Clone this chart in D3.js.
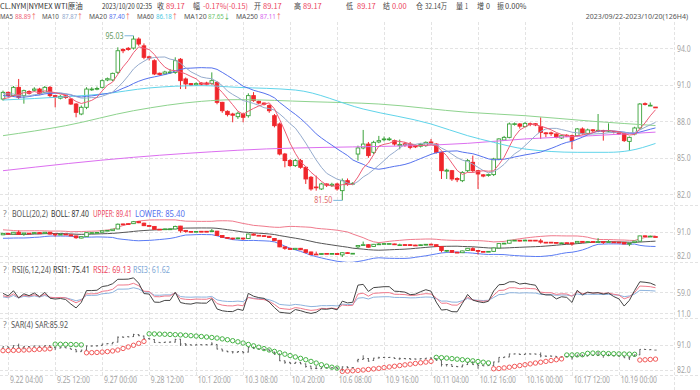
<!DOCTYPE html>
<html lang="zh-CN">
<head>
<meta charset="UTF-8">
<title>CL.NYM 4H</title>
<style>
  body { margin: 0; background: #fff; }
  svg { display: block; font-family: "Noto Sans CJK SC", "Noto Sans", sans-serif; }
  .grid line { stroke: #e3e3e3; stroke-dasharray: 3,2; shape-rendering: crispEdges; }
  .lat { font-family: "Noto Sans", "Noto Sans CJK SC", sans-serif; }
</style>
</head>
<body>
<script src="https://cdn.jsdelivr.net/npm/d3@7/dist/d3.min.js"></script>
<script>
// 4小时K线, 126根
var opens  = [89.83,90.38,90.11,90.79,90.11,90.45,90.55,90.65,90.38,90.79,90.11,89.90,90.10,89.83,89.42,88.60,89.15,90.60,90.65,90.79,
              91.40,91.40,92.03,93.90,94.00,94.02,94.76,94.20,93.30,92.98,91.95,91.90,92.00,92.02,93.10,91.48,91.10,91.00,91.15,91.15,
              91.12,91.20,89.56,88.82,88.60,88.38,88.60,88.46,90.11,89.65,89.50,89.29,88.46,87.78,85.31,84.77,84.36,84.77,84.22,83.40,
              82.60,82.44,82.85,82.72,82.85,82.30,83.12,82.85,85.31,85.81,86.13,85.45,86.30,86.50,86.50,86.41,86.00,86.15,86.13,85.98,
              85.95,86.00,86.30,86.13,85.45,83.90,83.94,83.30,83.12,83.94,84.63,83.94,83.60,83.55,83.62,84.90,86.46,86.68,87.75,87.78,
              87.56,87.80,87.80,87.56,87.05,87.05,86.96,86.63,86.85,86.82,86.82,87.37,87.01,87.30,87.20,87.25,87.20,87.15,87.09,87.01,
              86.35,86.96,87.45,89.45,89.28,89.17];
var highs  = [90.52,90.45,90.90,91.48,90.60,90.55,90.80,90.75,90.90,90.90,90.15,90.15,90.15,89.90,89.50,89.30,90.80,90.80,90.85,91.45,
              91.60,92.00,94.08,94.00,94.10,95.03,94.90,94.40,93.40,93.10,92.00,92.15,92.30,93.26,93.20,91.60,91.15,91.20,91.20,91.25,
              92.02,91.30,89.60,88.90,88.70,88.80,88.70,90.30,90.40,89.70,89.55,89.40,88.60,87.90,85.40,84.90,84.90,84.90,84.30,83.50,
              83.53,82.95,82.90,82.95,82.95,83.30,83.30,83.00,86.00,87.29,86.30,86.40,86.80,86.75,86.70,86.50,86.50,86.30,86.30,86.10,
              86.20,86.35,86.55,86.20,85.50,84.10,84.00,83.40,83.90,84.90,85.18,84.00,83.65,83.70,85.00,86.60,86.80,87.90,87.90,87.85,
              87.95,87.90,87.85,88.33,87.10,87.15,87.00,86.90,86.95,86.90,87.45,87.50,87.40,87.35,88.60,87.30,87.83,87.20,87.15,87.05,
              86.75,87.55,89.50,89.55,89.55,89.17];
var lows   = [89.70,90.00,90.00,89.83,89.45,90.20,90.45,90.15,90.30,89.97,89.15,89.80,89.85,89.35,88.33,88.50,89.00,90.50,90.55,90.70,
              91.30,91.30,91.89,93.60,93.80,93.90,94.20,93.10,93.00,91.80,91.75,91.80,91.90,91.90,90.65,90.65,90.90,90.90,90.95,90.95,
              91.00,89.40,88.70,88.40,87.92,88.20,87.92,88.30,89.60,89.40,89.30,88.70,87.50,85.20,84.22,84.25,84.25,84.10,82.85,82.30,
              82.30,82.35,82.60,82.60,82.30,81.50,82.70,82.75,84.77,85.70,85.00,85.30,86.20,86.35,86.40,86.00,85.70,85.90,85.70,85.80,
              85.85,85.90,86.10,85.35,83.26,83.26,83.10,83.00,83.00,83.80,83.80,82.44,83.40,83.45,83.50,84.80,86.40,86.60,87.65,87.40,
              87.50,87.60,87.60,86.55,86.70,86.80,86.60,86.55,86.70,85.72,86.70,86.90,86.90,87.10,87.10,86.41,87.10,87.00,86.90,86.30,
              85.59,86.85,87.35,89.30,89.25,89.17];
var closes = [90.38,90.11,90.79,89.97,90.52,90.30,90.65,90.25,90.79,90.11,90.00,90.05,89.95,89.42,88.74,89.15,90.65,90.65,90.70,91.34,
              91.50,91.94,93.80,93.80,93.90,94.76,94.35,93.26,93.20,91.89,91.85,92.05,92.05,92.98,91.34,91.07,90.98,91.10,91.05,91.05,
              91.34,89.56,88.87,88.55,88.50,88.66,88.33,90.11,89.70,89.50,89.40,88.87,87.64,85.31,84.77,84.36,84.77,84.22,83.26,82.44,
              82.55,82.85,82.75,82.82,82.44,83.12,82.85,82.90,85.81,86.13,85.18,86.27,86.41,86.55,86.55,86.13,86.10,86.05,85.86,85.90,
              86.10,86.27,86.20,85.45,83.94,83.98,83.26,83.20,83.80,84.77,83.94,83.67,83.50,83.62,84.90,86.55,86.68,87.78,87.80,87.60,
              87.83,87.75,87.70,87.09,86.98,86.98,86.68,86.82,86.78,86.41,87.37,87.01,87.29,87.22,87.26,87.18,87.25,87.08,86.96,86.41,
              86.68,87.45,89.42,89.38,89.32,89.17];
// 窗口之前的19根收盘价(估计), 供MA/BOLL/RSI起算
var prevCloses = [91.2,91.4,91.0,90.5,89.3,89.0,89.4,88.9,89.2,89.8,90.3,90.9,91.3,90.8,90.2,89.6,89.9,89.5,89.8];
// SAR(4) 读图
var sarValues = [88.96,89.00,89.05,89.10,89.18,89.26,89.35,89.45,89.55,89.66,
                 91.30,91.26,91.22,91.18,91.12,91.05,
                 88.20,88.25,88.32,88.45,88.62,88.85,89.20,89.75,90.30,90.90,91.60,92.30,
                 95.03,94.98,94.92,94.86,94.80,94.72,94.64,94.50,94.36,94.22,94.06,93.88,93.70,93.50,93.20,92.90,92.55,92.15,91.70,91.20,
                 90.70,90.20,89.70,89.20,88.70,88.20,87.70,87.20,86.70,86.20,85.70,85.10,84.50,83.90,83.40,83.00,82.70,
                 81.50,81.60,81.72,81.85,82.00,82.20,82.40,82.60,82.85,83.10,83.35,83.60,83.85,84.10,84.35,84.60,84.85,85.10,
                 86.55,86.45,86.30,86.10,85.90,85.70,85.50,85.30,85.05,84.80,84.55,
                 82.44,82.55,82.75,83.00,83.30,83.60,83.90,84.20,84.50,84.80,85.10,85.40,85.70,86.00,
                 87.40,87.42,87.45,87.50,88.00,88.10,88.05,88.00,87.90,87.85,87.80,87.75,87.70,87.65,
                 85.59,85.68,85.80,85.92];
// 长周期均线, [K线序号, 值]
var ma60Pts  = [[0,89.75],[12,90.02],[19,90.24],[28,90.74],[38,90.93],[45,90.79],[56,90.57],[69,89.01],[82,87.78],[89,86.82],[94,86.27],[100,85.72],[110,85.45],[116,85.45],[120,85.59],[125,86.18]];
var ma120Pts = [[0,86.82],[12,87.64],[25,88.87],[38,89.64],[45,89.78],[59,89.61],[72,89.42],[89,88.74],[100,88.46],[113,88.00],[125,87.65]];
var ma250Pts = [[0,83.94],[25,85.04],[45,85.62],[89,86.19],[100,86.55],[113,86.82],[125,87.11]];

var timeTicks  = [1,10,19,28,37,46,55,64,73,82,91,100,109,118];
var timeLabels = ["9.22 04:00","9.25 12:00","9.27 00:00","9.28 12:00","10.1 20:00","10.3 08:00","10.4 20:00",
                  "10.6 08:00","10.9 16:00","10.11 04:00","10.12 16:00","10.16 00:00","10.17 12:00","10.19 00:00"];
var mainTicks = [82, 85, 88, 91, 94];
var bollTicks = [82, 91];
var rsiTicks  = [11, 59];
var sarTicks  = [82, 91];

var W = 700, H = 390, plotR = 674;
var RED = "#f0262b", GREEN = "#3aa23a", TXTRED = "#ec4560";

var svg = d3.select("body").append("svg").attr("width", W).attr("height", H);

var xs = d3.scaleLinear().domain([0, closes.length - 1]).range([3, 655.5]);

var panels = [
  { id: "main", top: 22,  bottom: 205, y: d3.scaleLinear().domain([82, 94]).range([194.3, 48.3]), ticks: mainTicks },
  { id: "boll", top: 205, bottom: 262, y: d3.scaleLinear().domain([82, 91]).range([255.7, 231.7]), ticks: bollTicks },
  { id: "rsi",  top: 262, bottom: 318, y: d3.scaleLinear().domain([11, 59]).range([313.3, 292.3]), ticks: rsiTicks },
  { id: "sar",  top: 318, bottom: 375, y: d3.scaleLinear().domain([82, 91]).range([370, 345]), ticks: sarTicks }
];
var P = {};
panels.forEach(function(p) { P[p.id] = p; });

// 文字: 横向压缩到给定宽度 (原图文字偏窄); s 可为 [[文字,颜色],...]
function label(x, y, s, color, w, anchor, fs, cls) {
  var t = svg.append("text").attr("dy", "0.35em").attr("font-size", fs || 8.5);
  if (cls) t.attr("class", cls);
  (Array.isArray(s) ? s : [[s, color]]).forEach(function(p) {
    t.append("tspan").attr("fill", p[1]).text(p[0]);
  });
  var nat = t.node().getComputedTextLength();
  var sx = w ? Math.min(1, w / nat) : 1;
  var left = anchor === "end" ? x - nat * sx : x;
  t.attr("transform", "translate(" + left + "," + y + ") scale(" + sx + ",1)");
  return t;
}
function squeeze(sel, per) {
  sel.each(function() {
    var nat = this.getComputedTextLength();
    var w = this.textContent.length * per;
    d3.select(this).attr("transform", "scale(" + Math.min(1, w / nat) + ",1)");
  });
}

// 网格
var grid = svg.append("g").attr("class", "grid");
grid.selectAll(".v").data(timeTicks).enter().append("line")
  .attr("x1", function(d) { return Math.round(xs(d)) + 0.5; })
  .attr("x2", function(d) { return Math.round(xs(d)) + 0.5; })
  .attr("y1", 22).attr("y2", 375);
grid.append("line").attr("x1", plotR + 0.5).attr("x2", plotR + 0.5).attr("y1", 22).attr("y2", 390);
panels.forEach(function(p) {
  grid.selectAll(".h" + p.id).data(p.ticks).enter().append("line")
    .attr("x1", 0).attr("x2", plotR)
    .attr("y1", function(d) { return Math.round(p.y(d)) + 0.5; })
    .attr("y2", function(d) { return Math.round(p.y(d)) + 0.5; });
  grid.append("line").attr("x1", 0).attr("x2", W)
    .attr("y1", p.bottom + 0.5).attr("y2", p.bottom + 0.5);
  // 右侧刻度
  var ax = d3.axisRight(p.y).tickValues(p.ticks).tickSize(0).tickPadding(0).tickFormat(d3.format(".1f"));
  var g = svg.append("g").attr("class", "lat").attr("transform", "translate(677,0)").call(ax);
  g.select(".domain").remove();
  g.selectAll("text").attr("fill", "#a3a3a3").attr("font-size", 8.5).call(squeeze, 3.4);
  // 裁剪
  svg.append("clipPath").attr("id", "clip-" + p.id).append("rect")
    .attr("x", 0).attr("y", p.top).attr("width", plotR).attr("height", p.bottom - p.top);
  p.g = svg.append("g").attr("clip-path", "url(#clip-" + p.id + ")");
});

// 底部时间轴
var xa = d3.axisBottom(xs).tickValues(timeTicks).tickSize(0).tickPadding(0)
  .tickFormat(function(d, i) { return timeLabels[i]; });
var xg = svg.append("g").attr("class", "lat").attr("transform", "translate(0,377)").call(xa);
xg.select(".domain").remove();
xg.selectAll("text").attr("fill", "#a3a3a3").attr("font-size", 8.5).attr("text-anchor", "start")
  .attr("x", 1.5).call(squeeze, 3.3);

// 指标计算
var allC = prevCloses.concat(closes), off = prevCloses.length;
function ma(n) {
  return closes.map(function(c, i) {
    var j = i + off;
    return d3.mean(allC.slice(Math.max(0, j - n + 1), j + 1));
  });
}
function sd(n) {
  return closes.map(function(c, i) {
    var j = i + off;
    return d3.deviation(allC.slice(Math.max(0, j - n + 1), j + 1));
  });
}
function rsi(n) {
  var up = 0, dn = 0, out = [];
  for (var j = 1; j < allC.length; j++) {
    var d = allC[j] - allC[j - 1];
    up = (Math.max(d, 0) + (n - 1) * up) / n;
    dn = (Math.abs(d) + (n - 1) * dn) / n;
    if (j >= off) out.push(dn === 0 ? 50 : up / dn * 100);
  }
  return out;
}
var ma5 = ma(5), ma10 = ma(10), ma20 = ma(20), sd20 = sd(20);
var upper = ma20.map(function(m, i) { return m + 2 * sd20[i]; });
var lower = ma20.map(function(m, i) { return m - 2 * sd20[i]; });
var rsi1 = rsi(6), rsi2 = rsi(12), rsi3 = rsi(24);

function seriesLine(g, data, y, color) {
  g.append("path").datum(data)
    .attr("fill", "none").attr("stroke", color).attr("stroke-width", 1)
    .attr("d", d3.line().x(function(d, i) { return xs(i); }).y(function(d) { return y(d); }));
}
function pointsLine(g, pts, y, color) {
  g.append("path").datum(pts)
    .attr("fill", "none").attr("stroke", color).attr("stroke-width", 1)
    .attr("d", d3.line().curve(d3.curveMonotoneX)
      .x(function(d) { return xs(d[0]); }).y(function(d) { return y(d[1]); }));
}
function candles(g, y) {
  var k = g.append("g").selectAll("g").data(closes).enter().append("g");
  var up = function(i) { return closes[i] > opens[i]; };
  k.append("line")
    .attr("x1", function(d, i) { return xs(i); }).attr("x2", function(d, i) { return xs(i); })
    .attr("y1", function(d, i) { return y(highs[i]); }).attr("y2", function(d, i) { return y(lows[i]); })
    .attr("stroke", function(d, i) { return up(i) ? GREEN : RED; }).attr("stroke-width", 1);
  k.append("rect")
    .attr("x", function(d, i) { return xs(i) - 1.8; }).attr("width", 3.6)
    .attr("y", function(d, i) { return y(Math.max(opens[i], closes[i])); })
    .attr("height", function(d, i) { return Math.max(0.8, Math.abs(y(opens[i]) - y(closes[i]))); })
    .attr("fill", function(d, i) { return up(i) ? "#fff" : RED; })
    .attr("stroke", function(d, i) { return up(i) ? GREEN : RED; }).attr("stroke-width", 0.9);
}

// 主图
var pm = P.main;
candles(pm.g, pm.y);
pointsLine(pm.g, ma250Pts, pm.y, "#dc6ff0");
pointsLine(pm.g, ma120Pts, pm.y, "#8ed38e");
pointsLine(pm.g, ma60Pts, pm.y, "#60d4ea");
seriesLine(pm.g, ma20, pm.y, "#5672ee");
seriesLine(pm.g, ma10, pm.y, "#95abcd");
seriesLine(pm.g, ma5, pm.y, "#ee5d76");

// 最高/最低标注
var hiI = d3.maxIndex(highs), loI = d3.minIndex(lows);
[[hiI, highs[hiI], "#5f9a5f"], [loI, lows[loI], "#e26a6a"]].forEach(function(a) {
  var x = xs(a[0]), y = pm.y(a[1]);
  svg.append("line").attr("x1", x - 9).attr("x2", x).attr("y1", y).attr("y2", y)
    .attr("stroke", "#7db6dc").attr("stroke-width", 1);
  label(x - 10, y, a[1].toFixed(2), a[2], 18, "end", 8.5, "lat");
});

// BOLL
var pb = P.boll;
seriesLine(pb.g, upper, pb.y, "#f07a8c");
seriesLine(pb.g, lower, pb.y, "#5b7cf4");
seriesLine(pb.g, ma20, pb.y, "#555");
candles(pb.g, pb.y);

// RSI
var pr = P.rsi;
seriesLine(pr.g, rsi3, pr.y, "#8db3de");
seriesLine(pr.g, rsi2, pr.y, "#f07a8c");
seriesLine(pr.g, rsi1, pr.y, "#444");

// SAR
var ps = P.sar;
var bars = ps.g.append("g").selectAll("g").data(closes).enter().append("g")
  .attr("stroke", "#444").attr("stroke-width", 0.8);
bars.append("line").attr("x1", function(d, i) { return xs(i); }).attr("x2", function(d, i) { return xs(i); })
  .attr("y1", function(d, i) { return ps.y(highs[i]); }).attr("y2", function(d, i) { return ps.y(lows[i]); });
bars.append("line").attr("x1", function(d, i) { return xs(i) - 1.1; }).attr("x2", function(d, i) { return xs(i); })
  .attr("y1", function(d, i) { return ps.y(opens[i]); }).attr("y2", function(d, i) { return ps.y(opens[i]); });
bars.append("line").attr("x1", function(d, i) { return xs(i); }).attr("x2", function(d, i) { return xs(i) + 1.1; })
  .attr("y1", function(d, i) { return ps.y(closes[i]); }).attr("y2", function(d, i) { return ps.y(closes[i]); });
ps.g.append("g").selectAll("circle").data(sarValues).enter().append("circle")
  .attr("cx", function(d, i) { return xs(i); }).attr("cy", function(d) { return ps.y(d); }).attr("r", 2.2)
  .attr("fill", "none").attr("stroke-width", 1)
  .attr("stroke", function(d, i) { return d < closes[i] ? "#f25a5a" : "#45b345"; });

// 标题行
var row1 = [
  [0, "CL.NYM|NYMEX WTI原油", "#333", 92], [102, "2023/10/20 02:35", "#333", 50],
  [157, "收", "#444", 7], [166, "89.17", TXTRED, 20],
  [193, "幅", "#444", 7], [203, "-0.17%(-0.15)", TXTRED, 45],
  [254, "开", "#444", 7], [263, "89.17", TXTRED, 20],
  [294, "高", "#444", 7], [303, "89.17", TXTRED, 20],
  [346, "低", "#444", 7], [357, "89.17", TXTRED, 19],
  [383, "结", "#444", 7], [392, "0.00", TXTRED, 16],
  [416, "仓", "#444", 7], [425, "32.14万", "#444", 22],
  [456, "量", "#444", 7], [465, "1", "#444", 3],
  [477, "增", "#444", 7], [486, "0", "#444", 4],
  [497, "振", "#444", 7], [505, "0.00%", "#444", 25]
];
row1.forEach(function(r) { label(r[0], 6.3, r[1], r[2], r[3], null, 7.5); });
var UPC = "#ec3b3b", DNC = "#3aa23a";
var row2 = [
  [0, [["MA5", "#555"]], 13], [15, [["88.89", "#ee5d76"], ["↑", UPC]], 22],
  [42, [["MA10", "#555"]], 17], [62, [["87.87", "#8ea6cc"], ["↑", UPC]], 21],
  [89, [["MA20", "#555"]], 18], [109, [["87.40", "#5672ee"], ["↑", UPC]], 22],
  [137, [["MA60", "#555"]], 17], [156, [["86.18", "#4cc9e2"], ["↑", UPC]], 22],
  [184, [["MA120", "#555"]], 23], [208, [["87.65", "#6cc46c"], ["↓", DNC]], 22],
  [236, [["MA250", "#555"]], 22], [260, [["87.11", "#d663ee"], ["↑", UPC]], 22]
];
row2.forEach(function(r) { label(r[0], 16.6, r[1], null, r[2], null, 7, "lat"); });
label(688, 16.6, "2023/09/22-2023/10/20(126H4)", "#555", 106, "end", 7, "lat");

var sub = [
  [213.7, [[3, "?", "#888", 4], [12, "BOLL(20,2)", "#555", 36], [51, "BOLL: 87.40", "#333", 38],
           [93, "UPPER: 89.41", "#ec4560", 39], [135, "LOWER: 85.40", "#5672ee", 50]]],
  [269.7, [[3, "?", "#888", 4], [12, "RSI(6,12,24)", "#555", 39], [53, "RSI1: 75.41", "#333", 37],
           [93, "RSI2: 69.13", "#ec4560", 38], [133, "RSI3: 61.62", "#7ea7d6", 37]]],
  [325.3, [[3, "?", "#888", 4], [11, "SAR(4)", "#555", 22], [35, "SAR:85.92", "#555", 33]]]
];
sub.forEach(function(s) { s[1].forEach(function(r) { label(r[0], s[0], r[1], r[2], r[3], null, 8.5, "lat"); }); });
</script>
</body>
</html>
